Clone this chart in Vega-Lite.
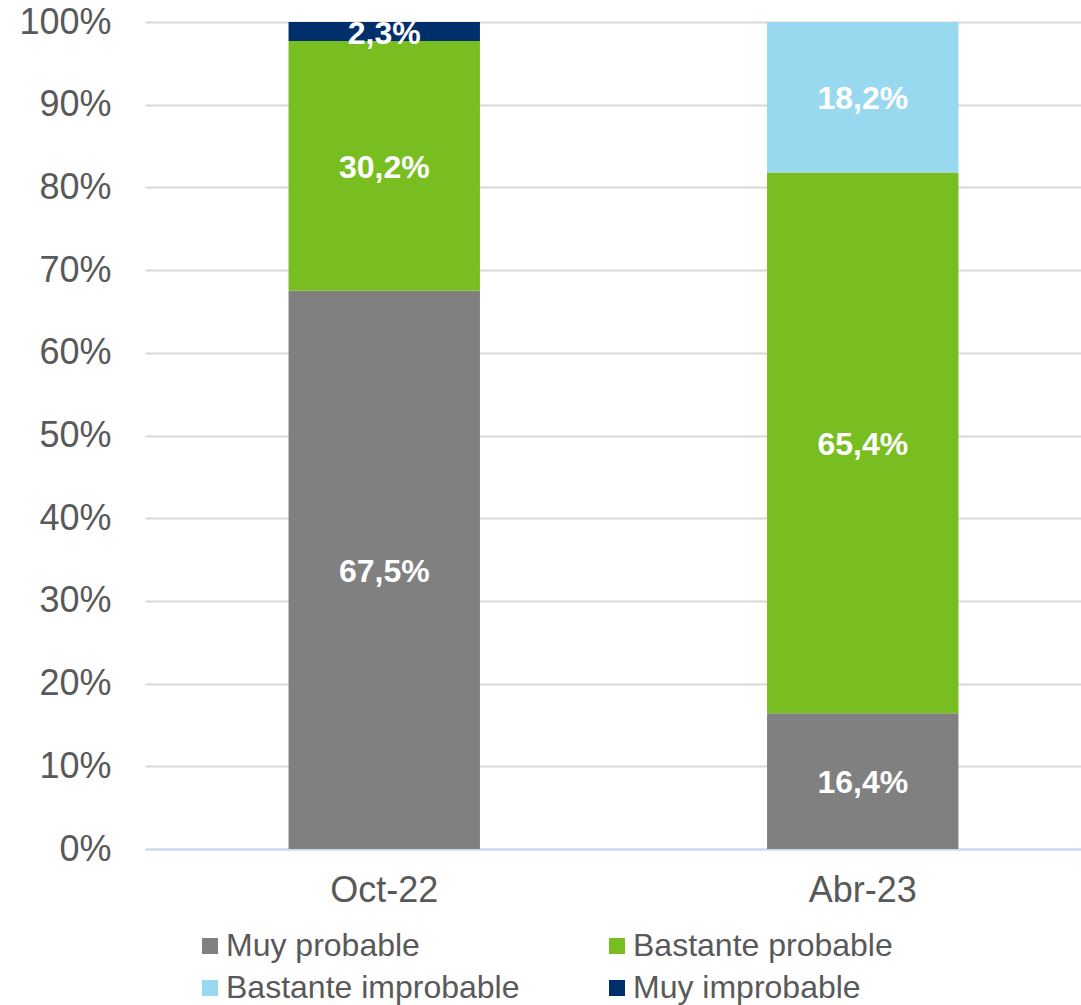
{
  "$schema": "https://vega.github.io/schema/vega-lite/v6.json",
  "width": 957,
  "height": 827,
  "autosize": "none",
  "padding": {"left": 145, "top": 22, "right": 0, "bottom": 156},
  "background": "white",
  "config": {
    "view": {"stroke": null},
    "font": "Liberation Sans",
    "axis": {"labelFont": "Liberation Sans", "labelColor": "#595959", "labelFontSize": 36, "ticks": false, "title": null}
  },
  "data": {
    "values": [
      {"periodo": "Oct-22", "categoria": "Muy probable", "orden": 1, "valor": 67.5},
      {"periodo": "Oct-22", "categoria": "Bastante probable", "orden": 2, "valor": 30.2},
      {"periodo": "Oct-22", "categoria": "Bastante improbable", "orden": 3, "valor": 0},
      {"periodo": "Oct-22", "categoria": "Muy improbable", "orden": 4, "valor": 2.3},
      {"periodo": "Abr-23", "categoria": "Muy probable", "orden": 1, "valor": 16.4},
      {"periodo": "Abr-23", "categoria": "Bastante probable", "orden": 2, "valor": 65.4},
      {"periodo": "Abr-23", "categoria": "Bastante improbable", "orden": 3, "valor": 18.2},
      {"periodo": "Abr-23", "categoria": "Muy improbable", "orden": 4, "valor": 0}
    ]
  },
  "transform": [
    {"stack": "valor", "groupby": ["periodo"], "sort": [{"field": "orden", "order": "ascending"}], "as": ["v0", "v1"]},
    {"calculate": "(datum.v0 + datum.v1) / 2", "as": "vmid"},
    {"calculate": "replace(format(datum.valor, '.1f'), '.', ',') + '%'", "as": "etiqueta"}
  ],
  "encoding": {
    "x": {
      "field": "periodo", "type": "nominal", "sort": ["Oct-22", "Abr-23"],
      "scale": {"paddingInner": 0.6, "paddingOuter": 0.3},
      "axis": {"labelAngle": 0, "domainColor": "#c5dbf3", "domainWidth": 2, "labelPadding": 24, "grid": false}
    }
  },
  "layer": [
    {
      "mark": {"type": "bar"},
      "encoding": {
        "y": {
          "field": "v0", "type": "quantitative",
          "scale": {"domain": [0, 100], "nice": false},
          "axis": {"values": [0,10,20,30,40,50,60,70,80,90,100], "labelExpr": "datum.value + '%'", "domain": false, "gridColor": "#d9d9d9", "gridWidth": 2, "labelPadding": 34}
        },
        "y2": {"field": "v1"},
        "color": {
          "field": "categoria", "type": "nominal",
          "scale": {
            "domain": ["Muy probable", "Bastante probable", "Bastante improbable", "Muy improbable"],
            "range": ["#808080", "#78be20", "#99d9f0", "#002f6c"]
          },
          "legend": {
            "title": null, "orient": "none", "legendX": 49, "legendY": 908, "direction": "horizontal", "columns": 2,
            "symbolType": "square", "symbolSize": 256, "symbolStrokeWidth": 0, "symbolOpacity": 1,
            "labelFont": "Liberation Sans", "labelFontSize": 32, "labelColor": "#595959", "labelOffset": 0,
            "columnPadding": 81, "rowPadding": 10, "padding": 0, "labelLimit": 500
          }
        }
      }
    },
    {
      "transform": [{"filter": "datum.valor > 0"}],
      "mark": {"type": "text", "color": "white", "fontWeight": "bold", "fontSize": 32, "font": "Liberation Sans", "baseline": "middle", "dy": 2},
      "encoding": {
        "y": {"field": "vmid", "type": "quantitative"},
        "text": {"field": "etiqueta"}
      }
    }
  ]
}
